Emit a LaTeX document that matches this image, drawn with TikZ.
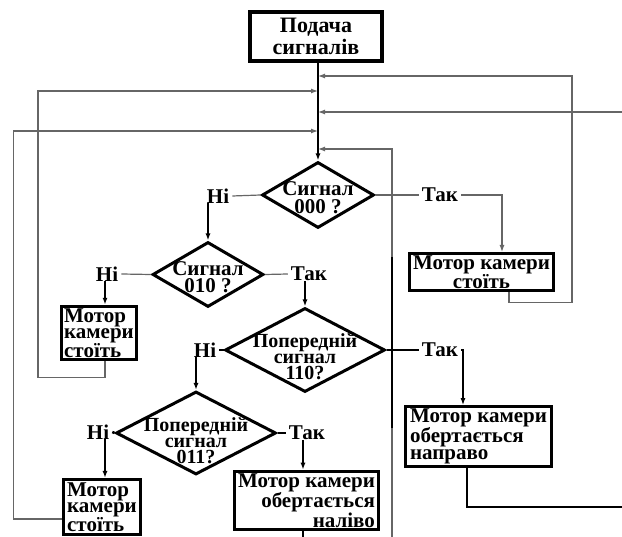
\documentclass[tikz,border=0pt]{standalone}
\usepackage{fontspec}
\setmainfont{Liberation Serif}
\usepackage{tikz}
\usetikzlibrary{shapes.geometric,arrows.meta,calc}

\begin{document}
\begin{tikzpicture}[x=1pt,y=-1pt,
  every node/.style={inner sep=0pt,font=\bfseries\fontsize{21}{17}\selectfont},
  blk/.style={draw,line width=3pt,inner sep=2pt},
  rhomb/.style={draw,diamond,line width=3pt,inner sep=0pt},
  lbl/.style={inner xsep=3pt},
  flow/.style={line width=1.4pt},
  heavy/.style={line width=2.6pt},
  loopline/.style={draw=black!60,line width=1.2pt},
  arr/.style={-{Latex[length=7pt,width=5pt]}}]
    \useasboundingbox (0,0) rectangle (622,537);

    % start
    \node[blk,line width=4.5pt,minimum width=132pt,minimum height=49pt,align=center,
      font=\bfseries\fontsize{22}{22}\selectfont] (sig) at (316,36.5) {Подача\\сигналів};

    % decisions
    \node[rhomb,minimum width=112pt,minimum height=66pt] (d000) at (318,195) {};
    \node[align=center,font=\bfseries\fontsize{21}{18}\selectfont] (t000) at ($(d000)+(0,3)$) {Сигнал\\000 ?};
    \node[rhomb,minimum width=111pt,minimum height=65pt] (d010) at (208,274.5) {};
    \node[align=center,font=\bfseries\fontsize{21}{17}\selectfont] (t010) at ($(d010)+(0,3)$) {Сигнал\\010 ?};
    \node[rhomb,minimum width=160pt,minimum height=84pt] (d110) at (305,350) {};
    \node[align=center,font=\bfseries\fontsize{20}{16}\selectfont] (t110) at ($(d110)+(0,7)$) {Попередній\\сигнал\\110?};
    \node[rhomb,minimum width=160pt,minimum height=83pt] (d011) at (196,433) {};
    \node[align=center,font=\bfseries\fontsize{20}{16}\selectfont] (t011) at ($(d011)+(0,8)$) {Попередній\\сигнал\\011?};

    % actions
    \node[blk,minimum width=144pt,minimum height=37pt,align=center,
      font=\bfseries\fontsize{21}{19}\selectfont] (b000) at (481.5,272) {Мотор камери\\стоїть};
    \node[blk,minimum width=75pt,minimum height=53pt,align=left,
      font=\bfseries\fontsize{21}{16}\selectfont] (b010) at (99,333) {Мотор\\камери\\стоїть};
    \node[blk,minimum width=146pt,minimum height=56pt,align=left] (b110) at (478.5,436.5) {Мотор камери\\обертається\\направо};
    \node[blk,minimum width=77pt,minimum height=55pt,align=left,
      font=\bfseries\fontsize{21}{16}\selectfont] (b011l) at (102,507) {Мотор\\камери\\стоїть};
    \node[blk,minimum width=144pt,minimum height=48pt,align=right] (b011r) at (306.5,500.5) {Мотор камери\\обертається\\наліво};

    % answers
    \node[lbl] (no000) at (218,196) {Ні};
    \node[lbl] (yes000) at (440,195) {Так};
    \node[lbl] (no010) at (107,274) {Ні};
    \node[lbl] (yes010) at (309,274) {Так};
    \node[lbl] (no110) at (205,350) {Ні};
    \node[lbl] (yes110) at (440,350) {Так};
    \node[lbl] (no011) at (98,432) {Ні};
    \node[lbl] (yes011) at (307,433) {Так};

    % joints on the main line
    \coordinate (j1) at (318,76);
    \coordinate (j2) at (318,91);
    \coordinate (j3) at (318,112);
    \coordinate (j4) at (318,131);
    \coordinate (j5) at (318,149);
    \coordinate (e1) at (622,112);
    \coordinate (e2) at (392,537);

    \draw[flow,arr] (sig.south -| d000.north) -- (d000.north);

    \draw[loopline] (d000.west) -- (no000.east);
    \draw[flow,arr] (d010.north |- no000.south) -- (d010.north);
    \draw[loopline] (d000.east) -- (yes000.west);
    \draw[loopline,arr] (yes000.east) -| ([xshift=20.5pt]b000.north);

    \draw[loopline] (d010.west) -- (no010.east);
    \draw[flow,arr] ([xshift=6pt]b010.north |- no010.south) -- ([xshift=6pt]b010.north);
    \draw[loopline] (d010.east) -- (yes010.west);
    \draw[flow,arr] (d110.north |- yes010.south) -- (d110.north);

    \draw[heavy] (d110.west) -- (no110.east);
    \draw[heavy,arr] (d011.north |- no110.south) -- (d011.north);
    \draw[heavy] (d110.east) -- (yes110.west);
    \draw[heavy,arr] (yes110.east) -| ([xshift=-15.5pt]b110.north);

    \draw[heavy] (d011.west) -- (no011.east);
    \draw[heavy,arr] ([xshift=3pt]b011l.north |- no011.south) -- ([xshift=3pt]b011l.north);
    \draw[heavy] (d011.east) -- (yes011.west);
    \draw[heavy,arr] ([xshift=-3.5pt]b011r.north |- yes011.south) -- ([xshift=-3.5pt]b011r.north);

    % returns
    \draw[loopline,arr] ([xshift=27.5pt]b000.south) -- ++(0,10.5) -- ++(63,0) |- (j1);
    \draw[loopline,arr] ([xshift=6pt]b010.south) -- ++(0,16) -- ++(-67,0) |- (j2);
    \draw[loopline,arr] (e1) -- (j3);
    \draw[loopline,arr] ([yshift=-12pt]b011l.west) -- ++(-48.5,0) |- (j4);
    \draw[loopline,arr] (e2) |- (j5);
    \draw[heavy] (392,257) -- (392,428);
    \draw[heavy] ([xshift=-3.5pt]b011r.south) -- ++(0,12);
    \draw[heavy] ([xshift=-11.5pt]b110.south) -- ++(0,39) -- ++(160,0);
\end{tikzpicture}
\end{document}
